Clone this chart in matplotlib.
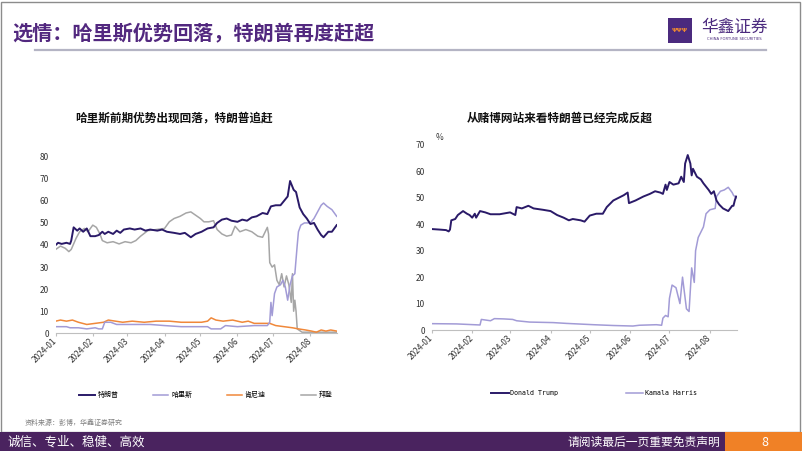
import matplotlib
matplotlib.use('Agg')
import matplotlib.pyplot as plt
import matplotlib.dates as mdates
import pandas as pd
from matplotlib.patches import Rectangle
from matplotlib.lines import Line2D

plt.rcParams['font.family'] = ['Noto Sans CJK SC', 'DejaVu Sans']

# ---------------- data: left chart (polls) ----------------
trump_l_dates = ['01-01','01-03','01-06','01-10','01-13','01-14','01-16','01-19','01-21','01-24','01-27','01-30',
                 '02-03','02-06','02-09','02-11','02-14','02-18','02-21','02-24','02-27','03-03','03-07','03-12',
                 '03-16','03-20','03-26','03-30','04-03','04-09','04-14','04-18','04-23','04-27','05-02','05-07',
                 '05-12','05-15','05-19','05-23','05-27','06-01','06-05','06-09','06-13','06-17','06-22','06-26',
                 '06-29','07-03','07-07','07-10','07-13','07-15','07-18','07-20','07-23','07-26','07-29','08-01',
                 '08-04','08-07','08-10','08-12','08-16','08-19','08-23']
trump_l = [40,41,40.5,41,40.5,42,48,46.5,47.5,46,47.5,44,
           44,44.5,46,45,46,45,46.5,45.5,47,47.5,47,47.5,
           46.5,47,46.5,47,46,45.5,45,45.5,43.5,45,46,47.5,
           48,50,51.5,52,51,50.5,51.5,51,52.5,53,54.5,54,
           57.5,58,58,60,62,69,65,64,57,54,52,49.5,
           50,47,44.5,43.5,46,46,49]

harris_l_dates = ['01-01','01-10','01-13','01-20','01-27','02-03','02-06','02-09','02-11','02-16','02-21','03-01',
                  '03-10','03-20','04-01','04-15','04-28','05-07','05-10','05-18','05-22','06-01','06-15','06-26',
                  '06-28','06-29','06-30','07-02','07-04','07-07','07-09','07-11','07-13','07-15','07-17','07-19',
                  '07-21','07-22','07-24','07-27','08-01','08-04','08-07','08-10','08-12','08-15','08-19','08-23']
harris_l = [3,3,2.5,2.5,2,2.5,2,2,5,5,4,4,
            4,4,3.5,3,3,3,2,2,3.5,3,3.5,3.5,
            5,14,8,18,21,22,24,21,15,22,26,27,
            40,46,49,50,50,52,55,58,59,57.5,56,53]

kennedy_l_dates = ['01-01','01-05','01-10','01-15','01-20','01-27','02-03','02-10','02-14','02-20','02-26','03-05',
                   '03-15','03-25','04-05','04-15','04-25','05-02','05-07','05-10','05-14','05-20','05-28','06-05',
                   '06-10','06-15','06-22','06-28','07-03','07-10','07-17','07-22','07-28','08-02','08-06','08-10',
                   '08-14','08-18','08-23']
kennedy_l = [5.5,6,5.5,6,5,4,4.5,5,6,5.5,5,5.5,
             5,5.5,5.5,5,5,5,5.5,7,6,5.5,6,5,
             5.5,4.5,4.5,4.5,3.5,3,2.5,2,1.5,1,0.5,1.5,
             1,1.5,1]

biden_l_dates = ['01-01','01-05','01-09','01-12','01-14','01-18','01-21','01-25','01-28','02-01','02-04','02-07',
                 '02-09','02-13','02-18','02-23','02-28','03-04','03-08','03-12','03-18','03-25','04-01','04-05',
                 '04-09','04-14','04-19','04-23','04-27','05-01','05-04','05-08','05-12','05-15','05-19','05-23',
                 '05-27','05-30','06-03','06-08','06-13','06-18','06-22','06-26','06-27','06-28','06-30','07-02',
                 '07-04','07-06','07-08','07-10','07-12','07-14','07-16','07-17','07-18','07-19','07-20','07-21',
                 '07-25','08-01','08-10','08-23']
biden_l = [38,39.5,38.5,37,38,43,46,47.5,46,49,48,45,
           42,41,41.5,40.5,41.5,41,42,44,46.5,47,47.5,50.5,
           52,53,54.5,55,53.5,52,50.5,50.5,51,47,45,44,
           44.5,48.5,46,47,46,44,43.5,48,45,32,30,31,
           24,22,27,21,26,22,14,27,10,15,10,2,
           0.5,0.5,0.5,0.5]

# ---------------- data: right chart (betting odds) ----------------
trump_r_dates = ['01-01','01-07','01-12','01-14','01-15','01-16','01-19','01-21','01-25','01-28','01-30','02-01',
                 '02-03','02-04','02-07','02-11','02-15','02-22','03-01','03-03','03-05','03-06','03-10','03-15',
                 '03-19','03-26','04-01','04-06','04-11','04-15','04-18','04-24','04-27','05-01','05-06','05-11',
                 '05-14','05-19','05-23','05-27','05-30','05-31','06-05','06-11','06-16','06-20','06-24','06-26',
                 '06-28','06-29','07-01','07-04','07-08','07-10','07-12','07-13','07-15','07-17','07-18','07-19',
                 '07-22','07-25','07-27','07-31','08-02','08-04','08-06','08-08','08-11','08-15','08-18','08-19',
                 '08-20','08-21']
trump_r = [38.2,38,37.8,37.3,38,41.5,42,43.5,45,44,43.5,42.5,
           44,42.5,45,44.5,43.8,43.8,44.5,44,43.5,46.5,46,47,
           46,45.5,45,43.5,42.5,41.5,42,41.5,41,43.3,44,44,
           46.5,49,50,51,52,48,49,50.5,51.5,52.5,52,51.5,
           55,53,56,55,55.5,58,56,63,66.2,63,58.5,61,
           58,57,55.5,53,51.5,52.5,49,47.5,46,45,47,47,
           49,50.5]

harris_r_dates = ['01-01','01-20','02-07','02-08','02-15','02-18','02-25','03-03','03-06','03-16','04-03','04-13',
                  '05-04','05-19','06-03','06-08','06-21','06-25','06-26','06-28','06-30','07-01','07-03','07-06',
                  '07-09','07-11','07-13','07-14','07-16','07-18','07-20','07-21','07-23','07-25','07-27','07-29',
                  '08-01','08-05','08-06','08-09','08-12','08-15','08-18','08-19','08-21']
harris_r = [2.4,2.3,1.9,4,3.5,4.3,4.2,4,3.5,3,2.8,2.5,
            2,1.7,1.5,1.8,2,1.8,4.5,5.5,5,12,17,16,
            10,20,12,8,7,23.5,18,30,35,37,39,44,
            45.5,46,50.5,52.5,53,54,52,51,50]

left_labels = ['特朗普', '哈里斯', '肯尼迪', '拜登']
right_labels = ['Donald Trump', 'Kamala Harris']
left_yticks = [0, 10, 20, 30, 40, 50, 60, 70, 80]
right_yticks = [0, 10, 20, 30, 40, 50, 60, 70]

def d(lst):
    return pd.to_datetime(['2024-' + s for s in lst])

C_TRUMP = '#2a1a68'
C_HARRIS = '#a29bd6'
C_KENNEDY = '#f0883a'
C_BIDEN = '#a6a6a6'
PURPLE = '#52287f'

W, H = 802, 451
fig = plt.figure(figsize=(W / 100, H / 100), dpi=100)
fig.patch.set_facecolor('white')

def box(px0, py0, px1, py1):
    return [px0 / W, 1 - py1 / H, (px1 - px0) / W, (py1 - py0) / H]

def style_axes(ax, yticks):
    for s in ['top', 'right', 'left']:
        ax.spines[s].set_visible(False)
    ax.spines['bottom'].set_color('#bfbfbf')
    ax.spines['bottom'].set_linewidth(0.8)
    ax.set_yticks(yticks)
    ax.tick_params(axis='y', length=0, labelsize=6, labelcolor='#333333', pad=5)
    ax.tick_params(axis='x', length=2.5, color='#bfbfbf', direction='out', labelsize=6,
                   labelcolor='#333333', pad=2)
    ax.xaxis.set_major_locator(mdates.MonthLocator())
    ax.xaxis.set_major_formatter(mdates.DateFormatter('%Y-%m'))
    for lab in ax.get_xticklabels():
        lab.set_rotation(45)
        lab.set_ha('right')
        lab.set_va('center')
        lab.set_rotation_mode('anchor')
    ax.set_facecolor('none')

# ---------------- left chart ----------------
ax1 = fig.add_axes(box(55.7, 156.7, 336.7, 333.3))
l1, = ax1.plot(d(trump_l_dates), trump_l, color=C_TRUMP, lw=1.4, label=left_labels[0], zorder=5)
l2, = ax1.plot(d(harris_l_dates), harris_l, color=C_HARRIS, lw=1.1, label=left_labels[1], zorder=4)
l3, = ax1.plot(d(kennedy_l_dates), kennedy_l, color=C_KENNEDY, lw=1.1, label=left_labels[2], zorder=3)
l4, = ax1.plot(d(biden_l_dates), biden_l, color=C_BIDEN, lw=1.1, label=left_labels[3], zorder=2)
ax1.set_xlim(pd.Timestamp('2024-01-01'), pd.Timestamp('2024-08-23'))
ax1.set_ylim(0, 80)
style_axes(ax1, left_yticks)

# ---------------- right chart ----------------
ax2 = fig.add_axes(box(431.7, 145, 737, 330))
r1, = ax2.plot(d(trump_r_dates), trump_r, color=C_TRUMP, lw=1.4, label=right_labels[0], zorder=5)
r2, = ax2.plot(d(harris_r_dates), harris_r, color=C_HARRIS, lw=1.1, label=right_labels[1], zorder=4)
ax2.set_xlim(pd.Timestamp('2024-01-01'), pd.Timestamp('2024-01-01') + pd.Timedelta(days=233.7))
ax2.set_ylim(0, 70)
style_axes(ax2, right_yticks)

# chart titles
fig.text(174 / W, 1 - 118 / H, '哈里斯前期优势出现回落，特朗普追赶', ha='center', va='center',
         fontsize=8.4, fontweight='bold', color='#111111')
fig.text(560 / W, 1 - 118 / H, '从赌博网站来看特朗普已经完成反超', ha='center', va='center',
         fontsize=8.4, fontweight='bold', color='#111111')
fig.text(440 / W, 1 - 137 / H, '%', ha='center', va='center', fontsize=6, color='#333333')

# legends
fig.legend(handles=[l1, l2, l3, l4], labels=left_labels, loc='center',
           bbox_to_anchor=(206 / W, 1 - 395 / H), ncol=4, frameon=False,
           fontsize=5, handlelength=2.2, handletextpad=0.4, columnspacing=5.0)
fig.legend(handles=[r1, r2], labels=right_labels, loc='center',
           bbox_to_anchor=(594 / W, 1 - 393 / H), ncol=2, frameon=False,
           prop={'family': 'DejaVu Sans Mono', 'size': 4.8},
           handlelength=2.6, handletextpad=0.2, columnspacing=10.2)

# ---------------- page decoration ----------------
fig.add_artist(Rectangle((1 / W, 19 / H), 798.5 / W, 430 / H, transform=fig.transFigure,
                         fill=False, edgecolor='#8c8c8c', lw=1.0))
fig.text(12 / W, 1 - 33 / H, '选情：哈里斯优势回落，特朗普再度赶超', ha='left', va='center',
         fontsize=14.5, fontweight='bold', color=PURPLE)
fig.add_artist(Line2D([35 / W, 766 / W], [1 - 50 / H, 1 - 50 / H], transform=fig.transFigure,
                      color='#b4b4c4', lw=1.6))

# logo
fig.add_artist(Rectangle((668 / W, 1 - 43 / H), 24 / W, 25 / H, transform=fig.transFigure,
                         facecolor='#4b2a7e', edgecolor='none'))
fig.text(680 / W, 1 - 31 / H, 'ΨΨΨ', ha='center', va='center', fontsize=4.5, color='#f08a30',
         family='DejaVu Sans', fontweight='bold')
fig.text(734 / W, 1 - 27 / H, '华鑫证券', ha='center', va='center', fontsize=12, color='#4b2a7e',
         fontweight='medium')
fig.text(734 / W, 1 - 39.5 / H, 'CHINA FORTUNE SECURITIES', ha='center', va='center', fontsize=2.7,
         color='#4b2a7e', family='DejaVu Sans')

# source
fig.text(25 / W, 1 - 423 / H, '资料来源：彭博，华鑫证券研究', ha='left', va='center', fontsize=5,
         color='#7f7f7f')

# footer
fig.add_artist(Rectangle((0, 0), 725 / W, 19 / H, transform=fig.transFigure,
                         facecolor='#4a235f', edgecolor='none'))
fig.add_artist(Rectangle((725 / W, 0), 77 / W, 19 / H, transform=fig.transFigure,
                         facecolor='#f08126', edgecolor='none'))
fig.text(8 / W, 1 - 442 / H, '诚信、专业、稳健、高效', ha='left', va='center', fontsize=9,
         color='white')
fig.text(720 / W, 1 - 442 / H, '请阅读最后一页重要免责声明', ha='right', va='center', fontsize=8.5,
         color='white')
fig.text(765 / W, 1 - 442 / H, '8', ha='center', va='center', fontsize=9, color='white')

fig.savefig('out.png', dpi=100, facecolor='white')
